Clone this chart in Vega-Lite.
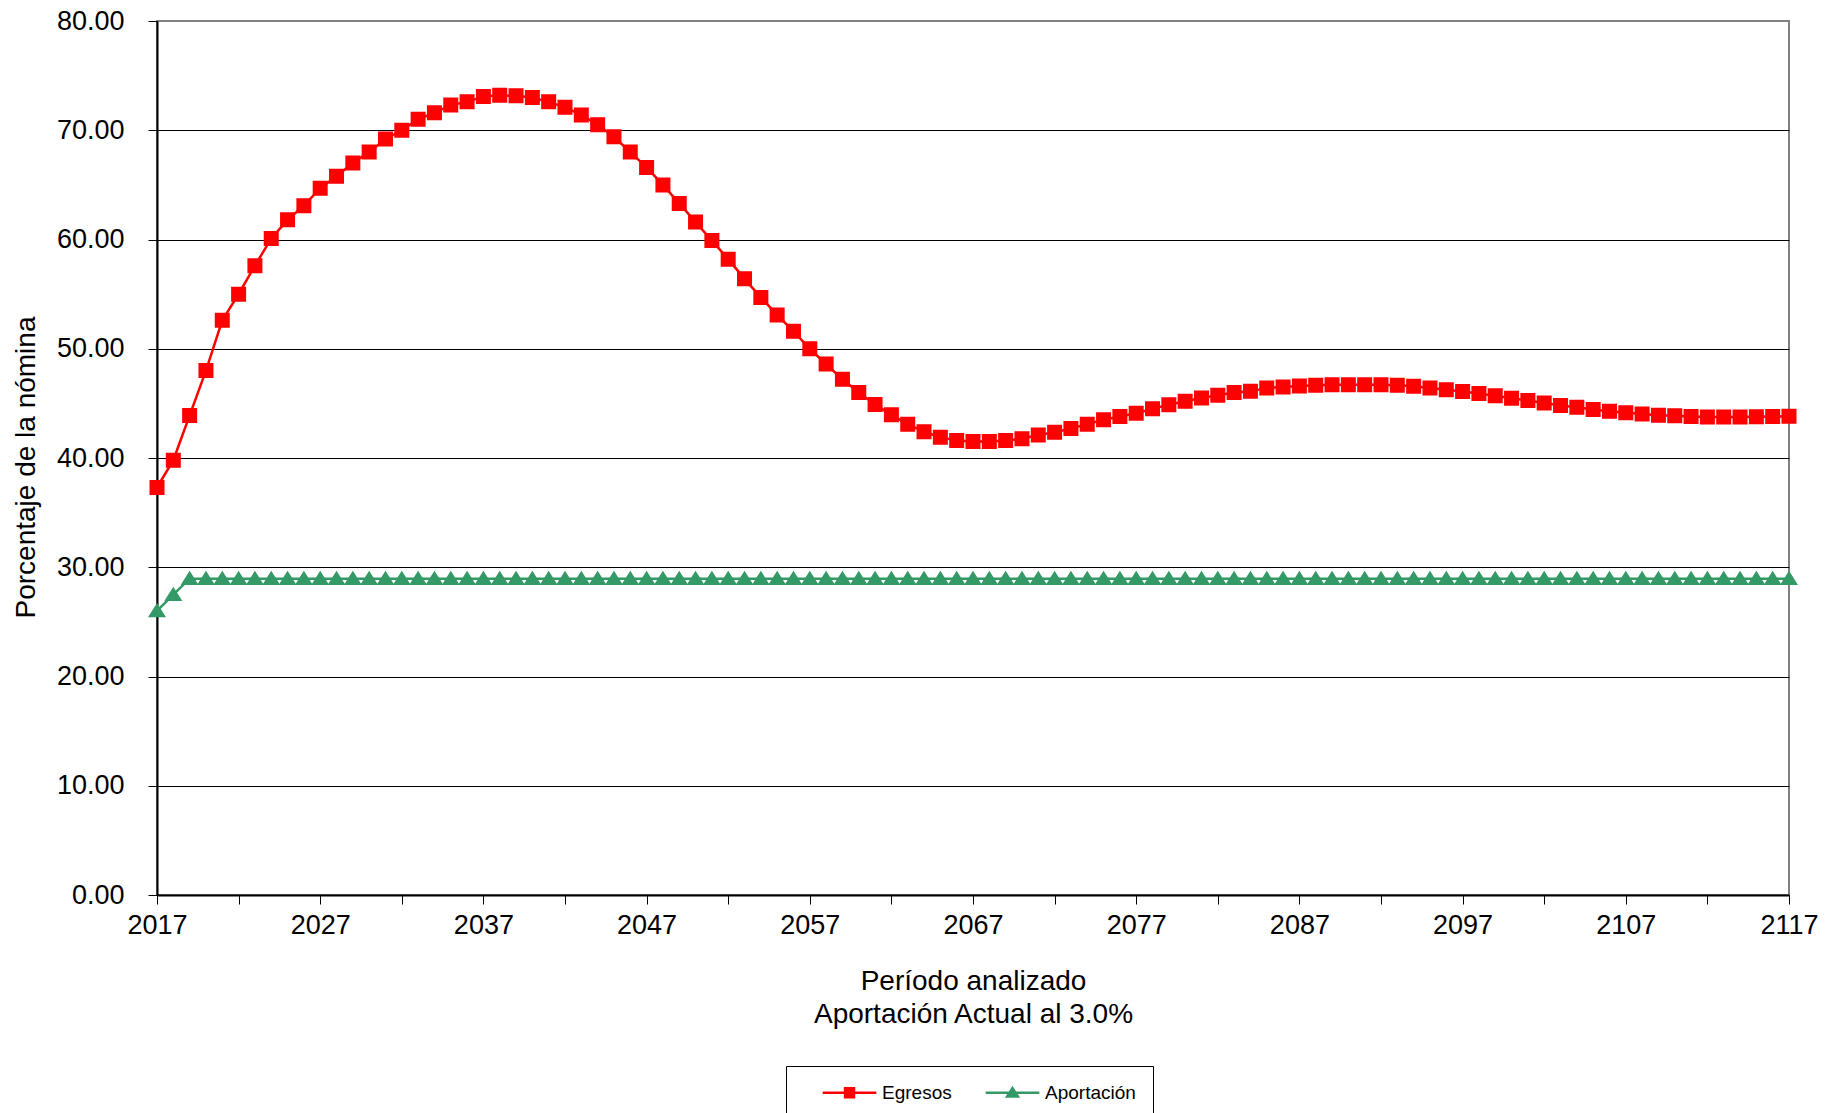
{
"$schema": "https://vega.github.io/schema/vega-lite/v6.json",
"width": 1632, "height": 874,
"autosize": {"type": "none"},
"padding": {"left": 157, "top": 21, "right": 54, "bottom": 218},
"background": "white",
"config": {"font": "Liberation Sans", "view": {"stroke": "#808080", "strokeWidth": 2},
  "legend": {"orient": "none", "legendX": 629, "legendY": 1045, "direction": "horizontal", "title": null,
         "strokeColor": "#000", "padding": 17, "symbolSize": 80, "labelFontSize": 19, "labelColor": "#000",
         "labelOffset": 23, "columnPadding": 14, "symbolOffset": 37}},
"datasets": {"d": [
{"year":2017,"serie":"Egresos","value":37.3},{"year":2018,"serie":"Egresos","value":39.8},{"year":2019,"serie":"Egresos","value":43.9},{"year":2020,"serie":"Egresos","value":48.0},{"year":2021,"serie":"Egresos","value":52.6},{"year":2022,"serie":"Egresos","value":55.0},{"year":2023,"serie":"Egresos","value":57.6},{"year":2024,"serie":"Egresos","value":60.1},{"year":2025,"serie":"Egresos","value":61.8},{"year":2026,"serie":"Egresos","value":63.1},
{"year":2027,"serie":"Egresos","value":64.7},{"year":2028,"serie":"Egresos","value":65.8},{"year":2029,"serie":"Egresos","value":67.0},{"year":2030,"serie":"Egresos","value":68.0},{"year":2031,"serie":"Egresos","value":69.2},{"year":2032,"serie":"Egresos","value":70.0},{"year":2033,"serie":"Egresos","value":71.0},{"year":2034,"serie":"Egresos","value":71.6},{"year":2035,"serie":"Egresos","value":72.3},{"year":2036,"serie":"Egresos","value":72.6},
{"year":2037,"serie":"Egresos","value":73.1},{"year":2038,"serie":"Egresos","value":73.2},{"year":2039,"serie":"Egresos","value":73.15},{"year":2040,"serie":"Egresos","value":73.0},{"year":2041,"serie":"Egresos","value":72.6},{"year":2042,"serie":"Egresos","value":72.1},{"year":2043,"serie":"Egresos","value":71.4},{"year":2044,"serie":"Egresos","value":70.5},{"year":2045,"serie":"Egresos","value":69.4},{"year":2046,"serie":"Egresos","value":68.0},
{"year":2047,"serie":"Egresos","value":66.6},{"year":2048,"serie":"Egresos","value":65.0},{"year":2049,"serie":"Egresos","value":63.3},{"year":2050,"serie":"Egresos","value":61.6},{"year":2051,"serie":"Egresos","value":59.9},{"year":2052,"serie":"Egresos","value":58.2},{"year":2053,"serie":"Egresos","value":56.4},{"year":2054,"serie":"Egresos","value":54.7},{"year":2055,"serie":"Egresos","value":53.1},{"year":2056,"serie":"Egresos","value":51.6},
{"year":2057,"serie":"Egresos","value":50.0},{"year":2058,"serie":"Egresos","value":48.6},{"year":2059,"serie":"Egresos","value":47.2},{"year":2060,"serie":"Egresos","value":46.0},{"year":2061,"serie":"Egresos","value":44.9},{"year":2062,"serie":"Egresos","value":43.95},{"year":2063,"serie":"Egresos","value":43.1},{"year":2064,"serie":"Egresos","value":42.4},{"year":2065,"serie":"Egresos","value":41.9},{"year":2066,"serie":"Egresos","value":41.6},
{"year":2067,"serie":"Egresos","value":41.5},{"year":2068,"serie":"Egresos","value":41.5},{"year":2069,"serie":"Egresos","value":41.6},{"year":2070,"serie":"Egresos","value":41.76},{"year":2071,"serie":"Egresos","value":42.1},{"year":2072,"serie":"Egresos","value":42.35},{"year":2073,"serie":"Egresos","value":42.7},{"year":2074,"serie":"Egresos","value":43.1},{"year":2075,"serie":"Egresos","value":43.5},{"year":2076,"serie":"Egresos","value":43.8},
{"year":2077,"serie":"Egresos","value":44.1},{"year":2078,"serie":"Egresos","value":44.5},{"year":2079,"serie":"Egresos","value":44.87},{"year":2080,"serie":"Egresos","value":45.2},{"year":2081,"serie":"Egresos","value":45.5},{"year":2082,"serie":"Egresos","value":45.74},{"year":2083,"serie":"Egresos","value":46.0},{"year":2084,"serie":"Egresos","value":46.1},{"year":2085,"serie":"Egresos","value":46.4},{"year":2086,"serie":"Egresos","value":46.5},
{"year":2087,"serie":"Egresos","value":46.6},{"year":2088,"serie":"Egresos","value":46.67},{"year":2089,"serie":"Egresos","value":46.7},{"year":2090,"serie":"Egresos","value":46.7},{"year":2091,"serie":"Egresos","value":46.7},{"year":2092,"serie":"Egresos","value":46.7},{"year":2093,"serie":"Egresos","value":46.67},{"year":2094,"serie":"Egresos","value":46.57},{"year":2095,"serie":"Egresos","value":46.4},{"year":2096,"serie":"Egresos","value":46.24},
{"year":2097,"serie":"Egresos","value":46.08},{"year":2098,"serie":"Egresos","value":45.9},{"year":2099,"serie":"Egresos","value":45.7},{"year":2100,"serie":"Egresos","value":45.46},{"year":2101,"serie":"Egresos","value":45.26},{"year":2102,"serie":"Egresos","value":45.03},{"year":2103,"serie":"Egresos","value":44.8},{"year":2104,"serie":"Egresos","value":44.64},{"year":2105,"serie":"Egresos","value":44.44},{"year":2106,"serie":"Egresos","value":44.28},
{"year":2107,"serie":"Egresos","value":44.15},{"year":2108,"serie":"Egresos","value":44.02},{"year":2109,"serie":"Egresos","value":43.92},{"year":2110,"serie":"Egresos","value":43.86},{"year":2111,"serie":"Egresos","value":43.8},{"year":2112,"serie":"Egresos","value":43.76},{"year":2113,"serie":"Egresos","value":43.76},{"year":2114,"serie":"Egresos","value":43.76},{"year":2115,"serie":"Egresos","value":43.78},{"year":2116,"serie":"Egresos","value":43.8},
{"year":2117,"serie":"Egresos","value":43.82},
{"year":2017,"serie":"Aportación","value":26.0},{"year":2018,"serie":"Aportación","value":27.5},{"year":2019,"serie":"Aportación","value":28.95},{"year":2020,"serie":"Aportación","value":28.95},{"year":2021,"serie":"Aportación","value":28.95},{"year":2022,"serie":"Aportación","value":28.95},{"year":2023,"serie":"Aportación","value":28.95},{"year":2024,"serie":"Aportación","value":28.95},{"year":2025,"serie":"Aportación","value":28.95},{"year":2026,"serie":"Aportación","value":28.95},
{"year":2027,"serie":"Aportación","value":28.95},{"year":2028,"serie":"Aportación","value":28.95},{"year":2029,"serie":"Aportación","value":28.95},{"year":2030,"serie":"Aportación","value":28.95},{"year":2031,"serie":"Aportación","value":28.95},{"year":2032,"serie":"Aportación","value":28.95},{"year":2033,"serie":"Aportación","value":28.95},{"year":2034,"serie":"Aportación","value":28.95},{"year":2035,"serie":"Aportación","value":28.95},{"year":2036,"serie":"Aportación","value":28.95},
{"year":2037,"serie":"Aportación","value":28.95},{"year":2038,"serie":"Aportación","value":28.95},{"year":2039,"serie":"Aportación","value":28.95},{"year":2040,"serie":"Aportación","value":28.95},{"year":2041,"serie":"Aportación","value":28.95},{"year":2042,"serie":"Aportación","value":28.95},{"year":2043,"serie":"Aportación","value":28.95},{"year":2044,"serie":"Aportación","value":28.95},{"year":2045,"serie":"Aportación","value":28.95},{"year":2046,"serie":"Aportación","value":28.95},
{"year":2047,"serie":"Aportación","value":28.95},{"year":2048,"serie":"Aportación","value":28.95},{"year":2049,"serie":"Aportación","value":28.95},{"year":2050,"serie":"Aportación","value":28.95},{"year":2051,"serie":"Aportación","value":28.95},{"year":2052,"serie":"Aportación","value":28.95},{"year":2053,"serie":"Aportación","value":28.95},{"year":2054,"serie":"Aportación","value":28.95},{"year":2055,"serie":"Aportación","value":28.95},{"year":2056,"serie":"Aportación","value":28.95},
{"year":2057,"serie":"Aportación","value":28.95},{"year":2058,"serie":"Aportación","value":28.95},{"year":2059,"serie":"Aportación","value":28.95},{"year":2060,"serie":"Aportación","value":28.95},{"year":2061,"serie":"Aportación","value":28.95},{"year":2062,"serie":"Aportación","value":28.95},{"year":2063,"serie":"Aportación","value":28.95},{"year":2064,"serie":"Aportación","value":28.95},{"year":2065,"serie":"Aportación","value":28.95},{"year":2066,"serie":"Aportación","value":28.95},
{"year":2067,"serie":"Aportación","value":28.95},{"year":2068,"serie":"Aportación","value":28.95},{"year":2069,"serie":"Aportación","value":28.95},{"year":2070,"serie":"Aportación","value":28.95},{"year":2071,"serie":"Aportación","value":28.95},{"year":2072,"serie":"Aportación","value":28.95},{"year":2073,"serie":"Aportación","value":28.95},{"year":2074,"serie":"Aportación","value":28.95},{"year":2075,"serie":"Aportación","value":28.95},{"year":2076,"serie":"Aportación","value":28.95},
{"year":2077,"serie":"Aportación","value":28.95},{"year":2078,"serie":"Aportación","value":28.95},{"year":2079,"serie":"Aportación","value":28.95},{"year":2080,"serie":"Aportación","value":28.95},{"year":2081,"serie":"Aportación","value":28.95},{"year":2082,"serie":"Aportación","value":28.95},{"year":2083,"serie":"Aportación","value":28.95},{"year":2084,"serie":"Aportación","value":28.95},{"year":2085,"serie":"Aportación","value":28.95},{"year":2086,"serie":"Aportación","value":28.95},
{"year":2087,"serie":"Aportación","value":28.95},{"year":2088,"serie":"Aportación","value":28.95},{"year":2089,"serie":"Aportación","value":28.95},{"year":2090,"serie":"Aportación","value":28.95},{"year":2091,"serie":"Aportación","value":28.95},{"year":2092,"serie":"Aportación","value":28.95},{"year":2093,"serie":"Aportación","value":28.95},{"year":2094,"serie":"Aportación","value":28.95},{"year":2095,"serie":"Aportación","value":28.95},{"year":2096,"serie":"Aportación","value":28.95},
{"year":2097,"serie":"Aportación","value":28.95},{"year":2098,"serie":"Aportación","value":28.95},{"year":2099,"serie":"Aportación","value":28.95},{"year":2100,"serie":"Aportación","value":28.95},{"year":2101,"serie":"Aportación","value":28.95},{"year":2102,"serie":"Aportación","value":28.95},{"year":2103,"serie":"Aportación","value":28.95},{"year":2104,"serie":"Aportación","value":28.95},{"year":2105,"serie":"Aportación","value":28.95},{"year":2106,"serie":"Aportación","value":28.95},
{"year":2107,"serie":"Aportación","value":28.95},{"year":2108,"serie":"Aportación","value":28.95},{"year":2109,"serie":"Aportación","value":28.95},{"year":2110,"serie":"Aportación","value":28.95},{"year":2111,"serie":"Aportación","value":28.95},{"year":2112,"serie":"Aportación","value":28.95},{"year":2113,"serie":"Aportación","value":28.95},{"year":2114,"serie":"Aportación","value":28.95},{"year":2115,"serie":"Aportación","value":28.95},{"year":2116,"serie":"Aportación","value":28.95},
{"year":2117,"serie":"Aportación","value":28.95}
]},
"data": {"name": "d"},
"encoding": {
  "x": {"field": "year", "type": "quantitative",
    "scale": {"domain": [2017, 2117], "nice": false, "zero": false},
    "axis": {"values": [2017,2022,2027,2032,2037,2042,2047,2052,2057,2062,2067,2072,2077,2082,2087,2092,2097,2102,2107,2112,2117],
      "format": "d", "labelExpr": "(datum.value - 2017) % 10 === 0 ? datum.label : ''",
      "grid": false, "domainColor": "#000", "domainWidth": 2, "tickColor": "#000", "tickWidth": 1, "tickSize": 9,
      "labelFontSize": 27, "labelColor": "#000", "labelPadding": 8, "labelFlush": false, "labelOverlap": false,
      "title": ["Período analizado", "Aportación Actual al 3.0%"], "titleFontSize": 28, "titleFontWeight": "normal",
      "titleColor": "#000", "titlePadding": 29, "titleLineHeight": 33}},
  "y": {"field": "value", "type": "quantitative",
    "scale": {"domain": [0, 80], "nice": false, "zero": true},
    "axis": {"values": [0,10,20,30,40,50,60,70,80], "format": ".2f",
      "grid": true, "gridColor": {"condition": {"test": "datum.value === 80", "value": "#808080"}, "value": "#000"}, "gridWidth": 1,
      "domainColor": "#000", "domainWidth": 2, "tickColor": "#000", "tickSize": 9,
      "labelFontSize": 27, "labelColor": "#000", "labelPadding": 24, "labelOverlap": false,
      "title": "Porcentaje de la nómina", "titleFontSize": 28, "titleFontWeight": "normal", "titleColor": "#000", "titlePadding": 16, "titleY": 446}},
  "color": {"field": "serie", "type": "nominal", "scale": {"domain": ["Egresos", "Aportación"], "range": ["#FF0000", "#339966"]},
    "legend": {"encode": {"symbols": {"update": {"stroke": {"scale": "color", "field": "value"}, "fill": {"scale": "color", "field": "value"}, "strokeWidth": {"value": 2.5}, "opacity": {"value": 1}}}}}}
},
"layer": [
  {"mark": {"type": "line", "strokeWidth": 2.5}},
  {"mark": {"type": "point", "filled": true, "size": 225, "opacity": 1},
   "encoding": {
     "shape": {"field": "serie", "type": "nominal", "scale": {"domain": ["Egresos", "Aportación"], "range": ["M-6,0H6M-1,-1H1V1H-1Z", "M-6,0H6M0,-1.05L1.2,0.85H-1.2Z"]},
       "legend": {"encode": {"symbols": {"update": {"stroke": {"scale": "color", "field": "value"}, "fill": {"scale": "color", "field": "value"}, "strokeWidth": {"value": 2.5}, "opacity": {"value": 1}}}}}}
   }}
]
}
